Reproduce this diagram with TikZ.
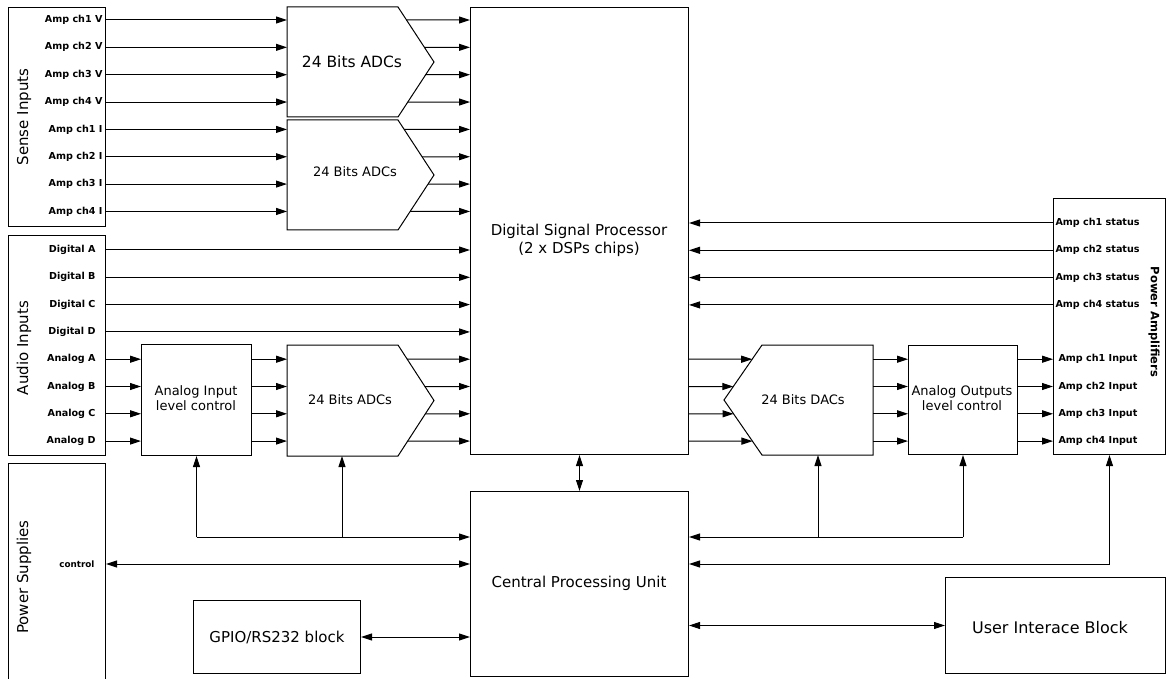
\documentclass[tikz,border=0pt]{standalone}
\usepackage{fontspec}
\setmainfont{DejaVu Sans}
\usetikzlibrary{arrows.meta,calc}
\newcommand\fbig{\fontsize{15}{18}\selectfont}
\newcommand\fmid{\fontsize{13}{15.5}\selectfont}
\newcommand\fsml{\fontsize{9.6}{11}\selectfont\bfseries}
\begin{document}
\begin{tikzpicture}[x=1pt,y=-1pt,line width=1pt,
  box/.style={draw,inner sep=0pt,anchor=north west},
  geo/.style={inner sep=0pt,anchor=north west},
  lbl/.style={inner sep=0pt,font=\fsml},
  arr/.style={-{Triangle[length=11pt,width=7pt]}},
  arrboth/.style={{Triangle[length=11pt,width=7pt]}-{Triangle[length=11pt,width=7pt]}},
  side/.style={inner sep=0pt,font=\fbig}]
\useasboundingbox[fill=white] (0,0) rectangle (1170,679);

% ---------- boxes ----------
\node[box,minimum width=97pt,minimum height=219pt] (sense) at (8,7) {};
\node[box,minimum width=97pt,minimum height=220pt] (audio) at (8,235) {};
\node[box,minimum width=97pt,minimum height=224pt] (psu) at (8,463) {};
\node[box,minimum width=110pt,minimum height=111pt] (aic) at (141,344) {};
\node[box,minimum width=109pt,minimum height=109pt] (aolc) at (908,345) {};
\node[box,minimum width=112pt,minimum height=256pt] (pa) at (1053,198) {};
\node[box,minimum width=218pt,minimum height=447pt] (dsp) at (470,7) {};
\node[box,minimum width=218pt,minimum height=185pt] (cpu) at (470,491) {};
\node[box,minimum width=167pt,minimum height=73pt] (gpio) at (193,600) {};
\node[box,minimum width=220pt,minimum height=96pt] (ui) at (945,577) {};

% ---------- ADC / DAC shapes ----------
\node[geo,minimum width=146pt,minimum height=109pt] (adc1) at (287,7) {};
\node[geo,minimum width=146pt,minimum height=109pt] (adc2) at (287,120) {};
\node[geo,minimum width=146pt,minimum height=110pt] (adc3) at (287,345) {};
\node[geo,minimum width=148pt,minimum height=109pt] (dac) at (724,345) {};
\foreach \a in {adc1,adc2,adc3}{
  \coordinate (\a t) at ($(\a.north east)+(-36,0)$);
  \coordinate (\a b) at ($(\a.south east)+(-36,0)$);
  \draw (\a.north west) -- (\a t) -- (\a.east) -- (\a b) -- (\a.south west) -- cycle;
}
\coordinate (dact) at ($(dac.north west)+(38,0)$);
\coordinate (dacb) at ($(dac.south west)+(38,0)$);
\draw (dac.west) -- (dact) -- (dac.north east) -- (dac.south east) -- (dacb) -- cycle;

% ---------- texts ----------
\node[side,rotate=90] (tsense) at (24,117) {Sense Inputs};
\node[side,rotate=90] (taudio) at (24,348) {Audio Inputs};
\node[side,rotate=90] (tpsu) at (24,577) {Power Supplies};
\node[inner sep=0pt,rotate=-90,font=\fontsize{11.5}{13}\selectfont\bfseries] (tpa) at (1154,322) {Power Amplifiers};
\node[font=\fontsize{15.5}{18}\selectfont,inner sep=0pt] (tadc1) at (352,62) {24 Bits ADCs};
\node[font=\fmid,inner sep=0pt] (tadc2) at (355,172) {24 Bits ADCs};
\node[font=\fmid,inner sep=0pt] (tadc3) at (350,400) {24 Bits ADCs};
\node[font=\fmid,inner sep=0pt] (tdac) at (803,400) {24 Bits DACs};
\node[font=\fmid,align=center,inner sep=0pt] (taic) at (196,398) {Analog Input\\level control};
\node[font=\fmid,align=center,inner sep=0pt] (taolc) at (962,398) {Analog Outputs\\level control};
\node[font=\fbig,align=center,inner sep=0pt] (tdsp) at (579,240) {Digital Signal Processor\\(2 x DSPs chips)};
\node[font=\fbig,inner sep=0pt] (tcpu) at (579,583) {Central Processing Unit};
\node[font=\fbig,inner sep=0pt] (tgpio) at (277,637) {GPIO/RS232 block};
\node[font=\fontsize{16}{19}\selectfont,inner sep=0pt] (tui) at (1050,628) {User Interace Block};
\node[lbl,anchor=east,font=\fontsize{8.8}{10}\selectfont\bfseries] (ctl) at (95,564) {control};

% ---------- sense inputs ----------
\foreach \i/\t in {1/{Amp ch1 V},2/{Amp ch2 V},3/{Amp ch3 V},4/{Amp ch4 V},5/{Amp ch1 I},6/{Amp ch2 I},7/{Amp ch3 I},8/{Amp ch4 I}}
  \node[lbl,anchor=east] (s\i) at (103,{20+27.35*(\i-1)}) {\t};
\foreach \i in {1,...,8}
  \draw[arr] (sense.east |- s\i.east) -- (adc1.west |- s\i.east);
\foreach \i/\p/\q in {1/adc1t/adc1.east,2/adc1t/adc1.east,3/adc1.east/adc1b,4/adc1.east/adc1b,5/adc2t/adc2.east,6/adc2t/adc2.east,7/adc2.east/adc2b,8/adc2.east/adc2b}
  \draw[arr] (intersection cs:first line={(\p)--(\q)},second line={(s\i.east)--(dsp.west |- s\i.east)}) -- (dsp.west |- s\i.east);

% ---------- audio inputs ----------
\foreach \i/\t in {1/{Digital A},2/{Digital B},3/{Digital C},4/{Digital D}}
  \node[lbl,anchor=east] (d\i) at (96,{250+27.3*(\i-1)}) {\t};
\foreach \i/\t in {1/{Analog A},2/{Analog B},3/{Analog C},4/{Analog D}}
  \node[lbl,anchor=east] (n\i) at (96,{359.2+27.3*(\i-1)}) {\t};
\foreach \i in {1,...,4}{
  \draw[arr] (audio.east |- d\i.east) -- (dsp.west |- d\i.east);
  \draw[arr] (audio.east |- n\i.east) -- (aic.west |- n\i.east);
  \draw[arr] (aic.east |- n\i.east) -- (adc3.west |- n\i.east);
}
\foreach \i/\p/\q in {1/adc3t/adc3.east,2/adc3t/adc3.east,3/adc3.east/adc3b,4/adc3.east/adc3b}
  \draw[arr] (intersection cs:first line={(\p)--(\q)},second line={(n\i.east)--(dsp.west |- n\i.east)}) -- (dsp.west |- n\i.east);

% ---------- outputs ----------
\foreach \i/\t in {1/{Amp ch1 Input},2/{Amp ch2 Input},3/{Amp ch3 Input},4/{Amp ch4 Input}}
  \node[lbl,anchor=west] (o\i) at (1058,{359.2+27.3*(\i-1)}) {\t};
\foreach \i/\p/\q in {1/dact/dac.west,2/dact/dac.west,3/dac.west/dacb,4/dac.west/dacb}
  \draw[arr] (dsp.east |- o\i.west) -- (intersection cs:first line={(\p)--(\q)},second line={(dsp.east |- o\i.west)--(o\i.west)});
\foreach \i in {1,...,4}{
  \draw[arr] (dac.east |- o\i.west) -- (aolc.west |- o\i.west);
  \draw[arr] (aolc.east |- o\i.west) -- (pa.west |- o\i.west);
}
\foreach \i/\t in {1/{Amp ch1 status},2/{Amp ch2 status},3/{Amp ch3 status},4/{Amp ch4 status}}
  \node[lbl,anchor=west] (st\i) at (1055,{223+27.3*(\i-1)}) {\t};
\foreach \i in {1,...,4}
  \draw[arr] (pa.west |- st\i.west) -- (dsp.east |- st\i.west);

% ---------- control buses ----------
\coordinate (busA) at (0,537);
\coordinate (busB) at (0,564);
\coordinate (adc3tap) at ($(adc3.south west)+(55,0)$);
\coordinate (dactap) at ($(dac.south east)+(-55,0)$);
\draw[arrboth] (dsp.south) -- (cpu.north);
\draw[arr] (aic.south |- busA) -- (aic.south);
\draw[arr] (adc3tap |- busA) -- (adc3tap);
\draw[arr] (aic.south |- busA) -- (cpu.west |- busA);
\draw[arr] (dactap |- busA) -- (dactap);
\draw[arr] (aolc.south |- busA) -- (aolc.south);
\draw[arr] (aolc.south |- busA) -- (cpu.east |- busA);
\draw[arr] (pa.south |- busB) -- (pa.south);
\draw[arr] (pa.south |- busB) -- (cpu.east |- busB);
\draw[arrboth] (psu.east |- ctl.east) -- (cpu.west |- ctl.east);
\draw[arrboth] (gpio.east) -- (cpu.west |- gpio.east);
\draw[arrboth] (cpu.east |- ui.west) -- (ui.west);
\end{tikzpicture}
\end{document}
